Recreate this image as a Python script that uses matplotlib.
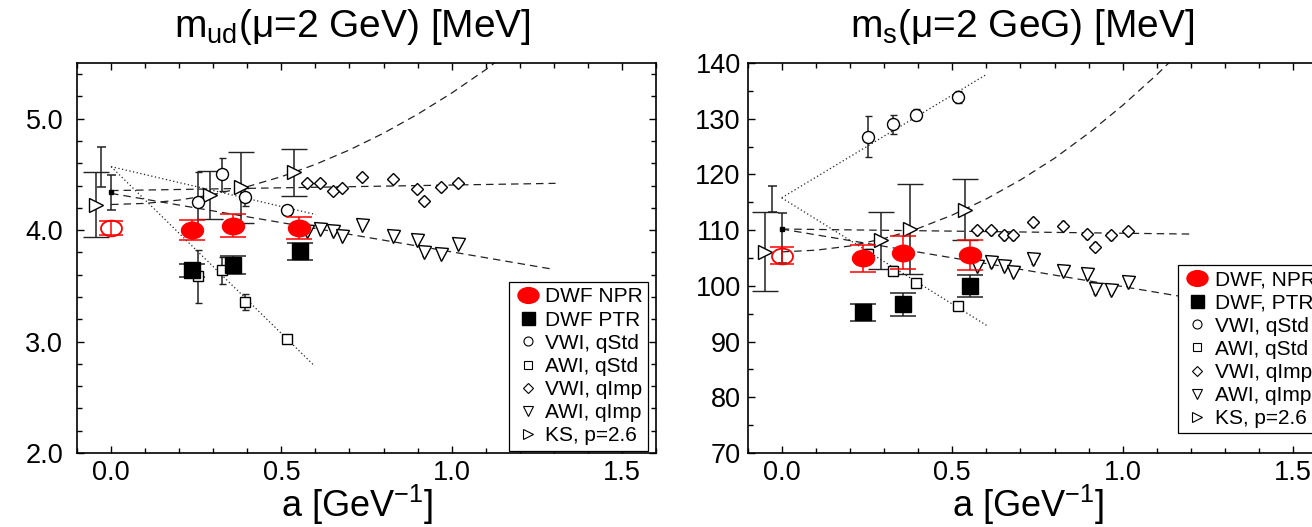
import numpy as np
import matplotlib
matplotlib.use("Agg")
import matplotlib.pyplot as plt
from matplotlib.path import Path
from matplotlib.transforms import Affine2D
from matplotlib.lines import Line2D
from matplotlib.ticker import MultipleLocator, FormatStrFormatter

plt.rcParams['font.family'] = ['Liberation Sans', 'DejaVu Sans']
plt.rcParams['mathtext.fontset'] = 'custom'
plt.rcParams['mathtext.rm'] = 'Liberation Sans'
plt.rcParams['mathtext.it'] = 'Liberation Sans:italic'
plt.rcParams['mathtext.bf'] = 'Liberation Sans:bold'

# ---------------- m_ud panel data ----------------
ud_npr_a = [0.239, 0.357, 0.552]
ud_npr = [4.00, 4.04, 4.02]
ud_npr_err = [0.09, 0.105, 0.10]
ud_npr0 = [4.02]            # continuum value, plotted at a=0
ud_npr0_err = [0.064]
ud_ptr_a = [0.237, 0.357, 0.554]
ud_ptr = [3.64, 3.69, 3.81]
ud_ptr_err = [0.06, 0.08, 0.078]
ud_std_a = [0.254, 0.325, 0.394, 0.518]
ud_vwi_std = [4.25, 4.50, 4.30, 4.18]
ud_vwi_std_err = [0.27, 0.15, 0.08, 0.04]
ud_awi_std = [3.585, 3.64, 3.355, 3.027]
ud_awi_std_err = [0.235, 0.12, 0.075, 0.025]
ud_imp_a = [0.574, 0.613, 0.652, 0.677, 0.736, 0.828, 0.897, 0.920, 0.968, 1.018]
ud_vwi_imp = [4.42, 4.42, 4.35, 4.375, 4.48, 4.46, 4.37, 4.265, 4.385, 4.42]
ud_awi_imp = [3.99, 4.01, 3.99, 3.95, 4.05, 3.95, 3.91, 3.80, 3.79, 3.88]
ud_imp_err = 0.03
ud_ks_a = [-0.044, 0.290, 0.381, 0.537]
ud_ks = [4.23, 4.315, 4.385, 4.518]
ud_ks_err = [0.29, 0.215, 0.32, 0.21]
ud_std0 = [4.57]            # qStd continuum limit (shifted left)
ud_std0_err = [0.18]
ud_imp0 = [4.34]            # qImp continuum limit
ud_imp0_lo = [0.155]
ud_imp0_hi = [0.155]
# fit lines (end points)
ud_vwi_std_fit = ([0.0, 0.601], [4.57, 4.14])
ud_awi_std_fit = ([0.0, 0.598], [4.57, 2.78])
ud_vwi_imp_fit = ([0.0, 1.305], [4.355, 4.42])
ud_awi_imp_fit = ([0.0, 1.288], [4.33, 3.654])
ud_ks_fit_a = [0.0, 0.1, 0.2, 0.3, 0.4, 0.5, 0.6, 0.7, 0.8, 0.9, 1.0, 1.1, 1.13]
ud_ks_fit = [4.23, 4.24, 4.27, 4.32, 4.39, 4.48, 4.59, 4.72, 4.87, 5.04, 5.23, 5.44, 5.51]

# ---------------- m_s panel data ----------------
s_npr_a = [0.237, 0.355, 0.552]
s_npr = [104.95, 105.96, 105.54]
s_npr_err = [2.4, 3.0, 2.7]
s_npr0 = [105.4]
s_npr0_err = [1.5]
s_ptr_a = [0.237, 0.355, 0.552]
s_ptr = [95.26, 96.69, 99.98]
s_ptr_err = [1.5, 2.1, 2.0]
s_std_a = [0.252, 0.325, 0.394, 0.518]
s_vwi_std = [126.8, 129.0, 130.7, 133.9]
s_vwi_std_err = [3.6, 1.7, 1.0, 1.0]
s_awi_std = [105.7, 102.7, 100.6, 96.4]
s_awi_std_err = [1.0, 0.8, 0.7, 0.6]
s_imp_a = [0.574, 0.613, 0.652, 0.677, 0.736, 0.826, 0.896, 0.919, 0.965, 1.016]
s_vwi_imp = [110.0, 110.0, 109.1, 109.1, 111.4, 110.8, 109.3, 107.0, 109.1, 109.85]
s_awi_imp = [103.6, 104.2, 103.6, 102.55, 104.8, 102.7, 102.1, 99.4, 99.3, 100.75]
s_imp_err = 0.8
s_ks_a = [-0.049, 0.290, 0.376, 0.537]
s_ks = [106.1, 108.2, 110.2, 113.7]
s_ks_err = [7.1, 5.1, 8.0, 5.4]
s_std0 = [115.6]
s_std0_err = [2.4]
s_imp0 = [110.15]
s_imp0_lo = [6.1]
s_imp0_hi = [2.85]
s_vwi_std_fit = ([0.0, 0.598], [115.8, 137.85])
s_awi_std_fit = ([0.0, 0.601], [115.8, 92.9])
s_vwi_imp_fit = ([0.0, 1.195], [110.2, 109.3])
s_awi_imp_fit = ([0.0, 1.2], [110.2, 97.8])
s_ks_fit_a = [0.0, 0.1, 0.2, 0.3, 0.4, 0.5, 0.6, 0.7, 0.8, 0.9, 1.0, 1.1, 1.15]
s_ks_fit = [106.1, 106.4, 107.15, 108.5, 110.3, 112.7, 115.6, 119.0, 122.9, 127.4, 132.4, 137.9, 140.9]

ud_labels = ["DWF NPR", "DWF PTR", "VWI, qStd", "AWI, qStd", "VWI, qImp", "AWI, qImp", "KS, p=2.6"]
s_labels = ["DWF, NPR", "DWF, PTR", "VWI, qStd", "AWI, qStd", "VWI, qImp", "AWI, qImp", "KS, p=2.6"]

# squashed circle used for the DWF NPR points
ellipse = Affine2D().scale(1.0, 0.75).transform_path(Path.unit_circle())

DASH = (0, (6, 4))
DOT = (0, (1, 2))
PX = 72 / 100.0  # points per pixel


def draw_panel(ax, d):
    lk = dict(color='#222222', lw=0.9, zorder=1)
    ax.plot(*d['vwi_std_fit'], linestyle=DOT, **lk)
    ax.plot(*d['awi_std_fit'], linestyle=DOT, **lk)
    ax.plot(*d['vwi_imp_fit'], linestyle=DASH, **lk)
    ax.plot(*d['awi_imp_fit'], linestyle=DASH, **lk)
    ax.plot(d['ks_fit_a'], d['ks_fit'], linestyle=DASH, **lk)

    eb = dict(ls='none', ecolor='#222222', elinewidth=1.1, capthick=1.1, zorder=2)
    open_k = dict(mfc='white', mec='black', mew=1.0)

    # continuum limits of the quenched Wilson data
    ax.errorbar([-0.029], d['std0'], yerr=d['std0_err'], fmt='none',
                capsize=4.5 * PX, **{k: v for k, v in eb.items() if k != 'ls'})
    ax.errorbar([0.0], d['imp0'], yerr=[d['imp0_lo'], d['imp0_hi']], fmt='s', ms=3,
                mfc='black', mec='black', capsize=4.5 * PX, **eb)

    # Kogut-Susskind
    ax.errorbar(d['ks_a'], d['ks'], yerr=d['ks_err'], fmt='>', ms=14 * PX,
                capsize=13 * PX, **open_k, **eb)
    # quenched Wilson
    ax.errorbar(d['std_a'], d['vwi_std'], yerr=d['vwi_std_err'], fmt='o', ms=12 * PX,
                capsize=3.5 * PX, **open_k, **eb)
    ax.errorbar(d['std_a'], d['awi_std'], yerr=d['awi_std_err'], fmt='s', ms=10.5 * PX,
                capsize=3.5 * PX, **open_k, **eb)
    ax.errorbar(d['imp_a'], d['vwi_imp'], yerr=d['imp_err'], fmt='D', ms=9 * PX,
                capsize=2.5 * PX, **open_k, **eb)
    ax.errorbar(d['imp_a'], d['awi_imp'], yerr=d['imp_err'], fmt='v', ms=13 * PX,
                capsize=2.5 * PX, **open_k, **eb)

    # DWF
    ax.errorbar(d['ptr_a'], d['ptr'], yerr=d['ptr_err'], fmt='s', ms=16 * PX,
                mfc='black', mec='black', capsize=13 * PX, **eb)
    red = dict(ls='none', ecolor='red', elinewidth=1.1, capthick=1.1, zorder=3)
    ax.errorbar(d['npr_a'], d['npr'], yerr=d['npr_err'], fmt='none', capsize=13 * PX, **red)
    ax.plot(d['npr_a'], d['npr'], ls='none', marker=ellipse, ms=22 * PX,
            mfc='red', mec='red', zorder=4)
    ax.errorbar([0.0], d['npr0'], yerr=d['npr0_err'], fmt='none', capsize=12 * PX, **red)
    ax.plot([0.0], d['npr0'], ls='none', marker=ellipse, ms=21 * PX,
            mfc='none', mec='red', mew=1.3, zorder=4)

    ax.set_xlim(-0.1, 1.6)
    ax.xaxis.set_major_locator(MultipleLocator(0.5))
    ax.xaxis.set_minor_locator(MultipleLocator(0.1))
    ax.xaxis.set_major_formatter(FormatStrFormatter('%.1f'))
    ax.tick_params(which='both', direction='in', top=True, right=True, width=1.0,
                   labelsize=19.5)
    ax.tick_params(which='major', length=5)
    ax.tick_params(which='minor', length=3.5)
    ax.tick_params(axis='x', pad=5)
    for sp in ax.spines.values():
        sp.set_linewidth(1.2)

    ax.set_xlabel("a [GeV$^{-1}$]", fontsize=26)
    ax.xaxis.set_label_coords(0.483, -0.076)

    handles = [
        Line2D([], [], ls='none', marker=ellipse, ms=21 * PX, mfc='red', mec='red'),
        Line2D([], [], ls='none', marker='s', ms=13 * PX, mfc='black', mec='black'),
        Line2D([], [], ls='none', marker='o', ms=9 * PX, mfc='white', mec='black', mew=0.8),
        Line2D([], [], ls='none', marker='s', ms=8 * PX, mfc='white', mec='black', mew=0.8),
        Line2D([], [], ls='none', marker='D', ms=6.5 * PX, mfc='white', mec='black', mew=0.8),
        Line2D([], [], ls='none', marker='v', ms=10 * PX, mfc='white', mec='black', mew=0.8),
        Line2D([], [], ls='none', marker='>', ms=10 * PX, mfc='white', mec='black', mew=0.8),
    ]
    leg = ax.legend(handles, d['labels'], loc='upper left', bbox_to_anchor=d['leg_pos'],
                    fontsize=15, frameon=True, fancybox=False, framealpha=1,
                    edgecolor='black', handlelength=1.3, handletextpad=0.2,
                    labelspacing=0.2, borderpad=0.25, borderaxespad=0)
    leg.get_frame().set_linewidth(0.9)


fig = plt.figure(figsize=(13.12, 5.27), dpi=100)
ax1 = fig.add_axes([77 / 1312, 74 / 527, 579 / 1312, 390 / 527])
ax2 = fig.add_axes([747.6 / 1312, 74 / 527, 579.7 / 1312, 390 / 527])

ud = dict(npr_a=ud_npr_a, npr=ud_npr, npr_err=ud_npr_err, npr0=ud_npr0, npr0_err=ud_npr0_err,
          ptr_a=ud_ptr_a, ptr=ud_ptr, ptr_err=ud_ptr_err,
          std_a=ud_std_a, vwi_std=ud_vwi_std, vwi_std_err=ud_vwi_std_err,
          awi_std=ud_awi_std, awi_std_err=ud_awi_std_err,
          imp_a=ud_imp_a, vwi_imp=ud_vwi_imp, awi_imp=ud_awi_imp, imp_err=ud_imp_err,
          ks_a=ud_ks_a, ks=ud_ks, ks_err=ud_ks_err,
          std0=ud_std0, std0_err=ud_std0_err, imp0=ud_imp0, imp0_lo=ud_imp0_lo, imp0_hi=ud_imp0_hi,
          vwi_std_fit=ud_vwi_std_fit, awi_std_fit=ud_awi_std_fit,
          vwi_imp_fit=ud_vwi_imp_fit, awi_imp_fit=ud_awi_imp_fit,
          ks_fit_a=ud_ks_fit_a, ks_fit=ud_ks_fit,
          labels=ud_labels, leg_pos=(0.746, 0.438))
s = dict(npr_a=s_npr_a, npr=s_npr, npr_err=s_npr_err, npr0=s_npr0, npr0_err=s_npr0_err,
         ptr_a=s_ptr_a, ptr=s_ptr, ptr_err=s_ptr_err,
         std_a=s_std_a, vwi_std=s_vwi_std, vwi_std_err=s_vwi_std_err,
         awi_std=s_awi_std, awi_std_err=s_awi_std_err,
         imp_a=s_imp_a, vwi_imp=s_vwi_imp, awi_imp=s_awi_imp, imp_err=s_imp_err,
         ks_a=s_ks_a, ks=s_ks, ks_err=s_ks_err,
         std0=s_std0, std0_err=s_std0_err, imp0=s_imp0, imp0_lo=s_imp0_lo, imp0_hi=s_imp0_hi,
         vwi_std_fit=s_vwi_std_fit, awi_std_fit=s_awi_std_fit,
         vwi_imp_fit=s_vwi_imp_fit, awi_imp_fit=s_awi_imp_fit,
         ks_fit_a=s_ks_fit_a, ks_fit=s_ks_fit,
         labels=s_labels, leg_pos=(0.743, 0.482))

draw_panel(ax1, ud)
draw_panel(ax2, s)

# left: m_ud axis
ax1.set_ylim(2.0, 5.5)
ax1.yaxis.set_major_locator(MultipleLocator(1.0))
ax1.yaxis.set_minor_locator(MultipleLocator(0.2))
ax1.yaxis.set_major_formatter(FormatStrFormatter('%.1f'))
ax1.tick_params(axis='y', pad=10)
ax1.text(0.475, 1.067, "m$_{\\mathrm{ud}}$(μ=2 GeV) [MeV]", transform=ax1.transAxes,
         ha='center', va='baseline', fontsize=28)

# right: m_s axis
ax2.set_ylim(70, 140)
ax2.yaxis.set_major_locator(MultipleLocator(10))
ax2.yaxis.set_minor_locator(MultipleLocator(5))
ax2.tick_params(axis='y', pad=5)
ax2.text(0.473, 1.067, "m$_{\\mathrm{s}}$(μ=2 GeG) [MeV]", transform=ax2.transAxes,
         ha='center', va='baseline', fontsize=28)

fig.savefig("out.png", dpi=100)
